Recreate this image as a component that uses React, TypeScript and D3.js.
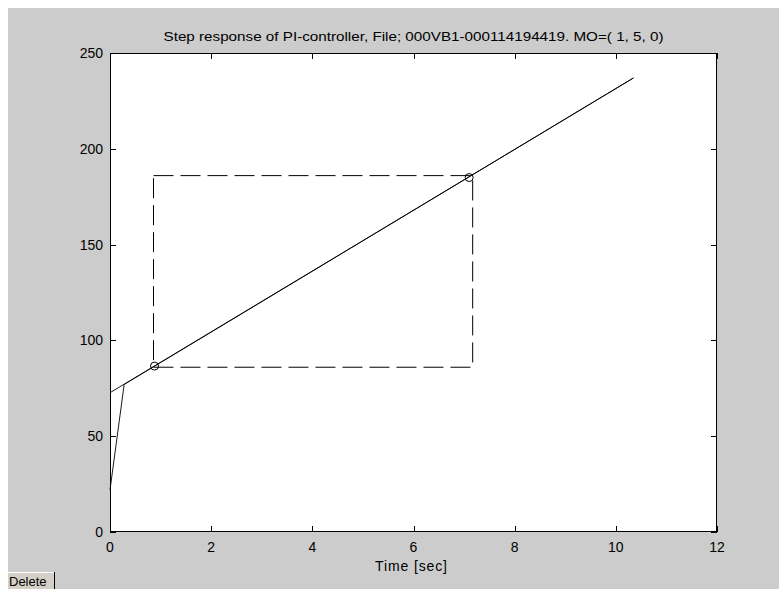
import React from "react";
import * as d3 from "d3";

const titleText = "Step response of PI-controller,  File; 000VB1-000114194419.  MO=( 1, 5, 0)";
const xLabelText = "Time [sec]";
const xTicks = [0, 2, 4, 6, 8, 10, 12];
const yTicks = [0, 50, 100, 150, 200, 250];

// measured step response
const respTime = [0, 0.28, 10.35];
const respValue = [22, 77, 237];
// fitted straight line
const fitTime = [0, 10.35];
const fitValue = [72.7, 237];
// markers (selected points)
const markTime = [0.88, 7.1];
const markValue = [86.6, 185];
// dashed box corners
const boxTime = [0.86, 7.17];
const boxValue = [86, 186];

const W = 779;
const H = 589;
const L = 110, R = 717, T = 53, B = 532;
const FONT = "'Liberation Sans', Arial, Helvetica, sans-serif";

export default function App() {
  const x = d3.scaleLinear().domain([0, 12]).range([L, R]);
  const y = d3.scaleLinear().domain([0, 250]).range([B, T]);
  const line = d3.line<[number, number]>().x((d) => x(d[0])).y((d) => y(d[1]));
  const resp = respTime.map((t, i) => [t, respValue[i]] as [number, number]);
  const fit = fitTime.map((t, i) => [t, fitValue[i]] as [number, number]);
  const box: [number, number][] = [
    [boxTime[0], boxValue[1]],
    [boxTime[1], boxValue[1]],
    [boxTime[1], boxValue[0]],
    [boxTime[0], boxValue[0]],
    [boxTime[0], boxValue[1]],
  ];
  const tl = 6;
  return (
    <svg
      width={W}
      height={H}
      style={{ position: "absolute", left: 0, top: 0, display: "block" }}
      fontFamily={FONT}
    >
      <rect x={0} y={0} width={W} height={H} fill="#ffffff" />
      <rect x={8} y={8} width={W - 8} height={H - 8} fill="#cccccc" />
      <rect x={L} y={T} width={R - L} height={B - T} fill="#ffffff" />
      <text x={(L + R) / 2} y={41} textAnchor="middle" fontSize={13.5} fill="#000"
        textLength={500} lengthAdjust="spacingAndGlyphs">
        {titleText}
      </text>
      {/* ticks */}
      <g stroke="#000" strokeWidth={1} shapeRendering="crispEdges">
        {xTicks.map((t) => (
          <g key={"xt" + t}>
            <line x1={Math.round(x(t)) + 0.5} x2={Math.round(x(t)) + 0.5} y1={B} y2={B - tl} />
            <line x1={Math.round(x(t)) + 0.5} x2={Math.round(x(t)) + 0.5} y1={T} y2={T + tl} />
          </g>
        ))}
        {yTicks.map((t) => (
          <g key={"yt" + t}>
            <line x1={L} x2={L + tl} y1={Math.round(y(t)) + 0.5} y2={Math.round(y(t)) + 0.5} />
            <line x1={R} x2={R - tl} y1={Math.round(y(t)) + 0.5} y2={Math.round(y(t)) + 0.5} />
          </g>
        ))}
      </g>
      {xTicks.map((t) => (
        <text key={"xl" + t} x={x(t)} y={552} textAnchor="middle" fontSize={14} fill="#000">
          {t}
        </text>
      ))}
      {yTicks.map((t) => (
        <text key={"yl" + t} x={103} y={y(t) + 5} textAnchor="end" fontSize={14} fill="#000">
          {t}
        </text>
      ))}
      <text x={411} y={571} textAnchor="middle" fontSize={14} fill="#000"
        textLength={72} lengthAdjust="spacing">
        {xLabelText}
      </text>
      {/* data */}
      <path d={line(box) || ""} fill="none" stroke="#000" strokeWidth={1} strokeDasharray="20,7" />
      <path d={line(fit) || ""} fill="none" stroke="#000" strokeWidth={0.9} />
      <path d={line(resp) || ""} fill="none" stroke="#000" strokeWidth={0.9} />
      {markTime.map((t, i) => (
        <circle key={"m" + i} cx={x(t)} cy={y(markValue[i])} r={4} fill="none" stroke="#000" strokeWidth={1} />
      ))}
      {/* axes box */}
      <rect x={L + 0.5} y={T + 0.5} width={R - L - 1} height={B - T - 1} fill="none" stroke="#000" strokeWidth={1} shapeRendering="crispEdges" />
      {/* Delete button */}
      <g>
        <rect x={8} y={572} width={47} height={17} fill="#d4d0c8" />
        <line x1={8} x2={55} y1={572.5} y2={572.5} stroke="#ffffff" />
        <line x1={54.5} x2={54.5} y1={572} y2={589} stroke="#000" />
        <text x={9} y={586} fontSize={13} fill="#000">Delete</text>
      </g>
    </svg>
  );
}
